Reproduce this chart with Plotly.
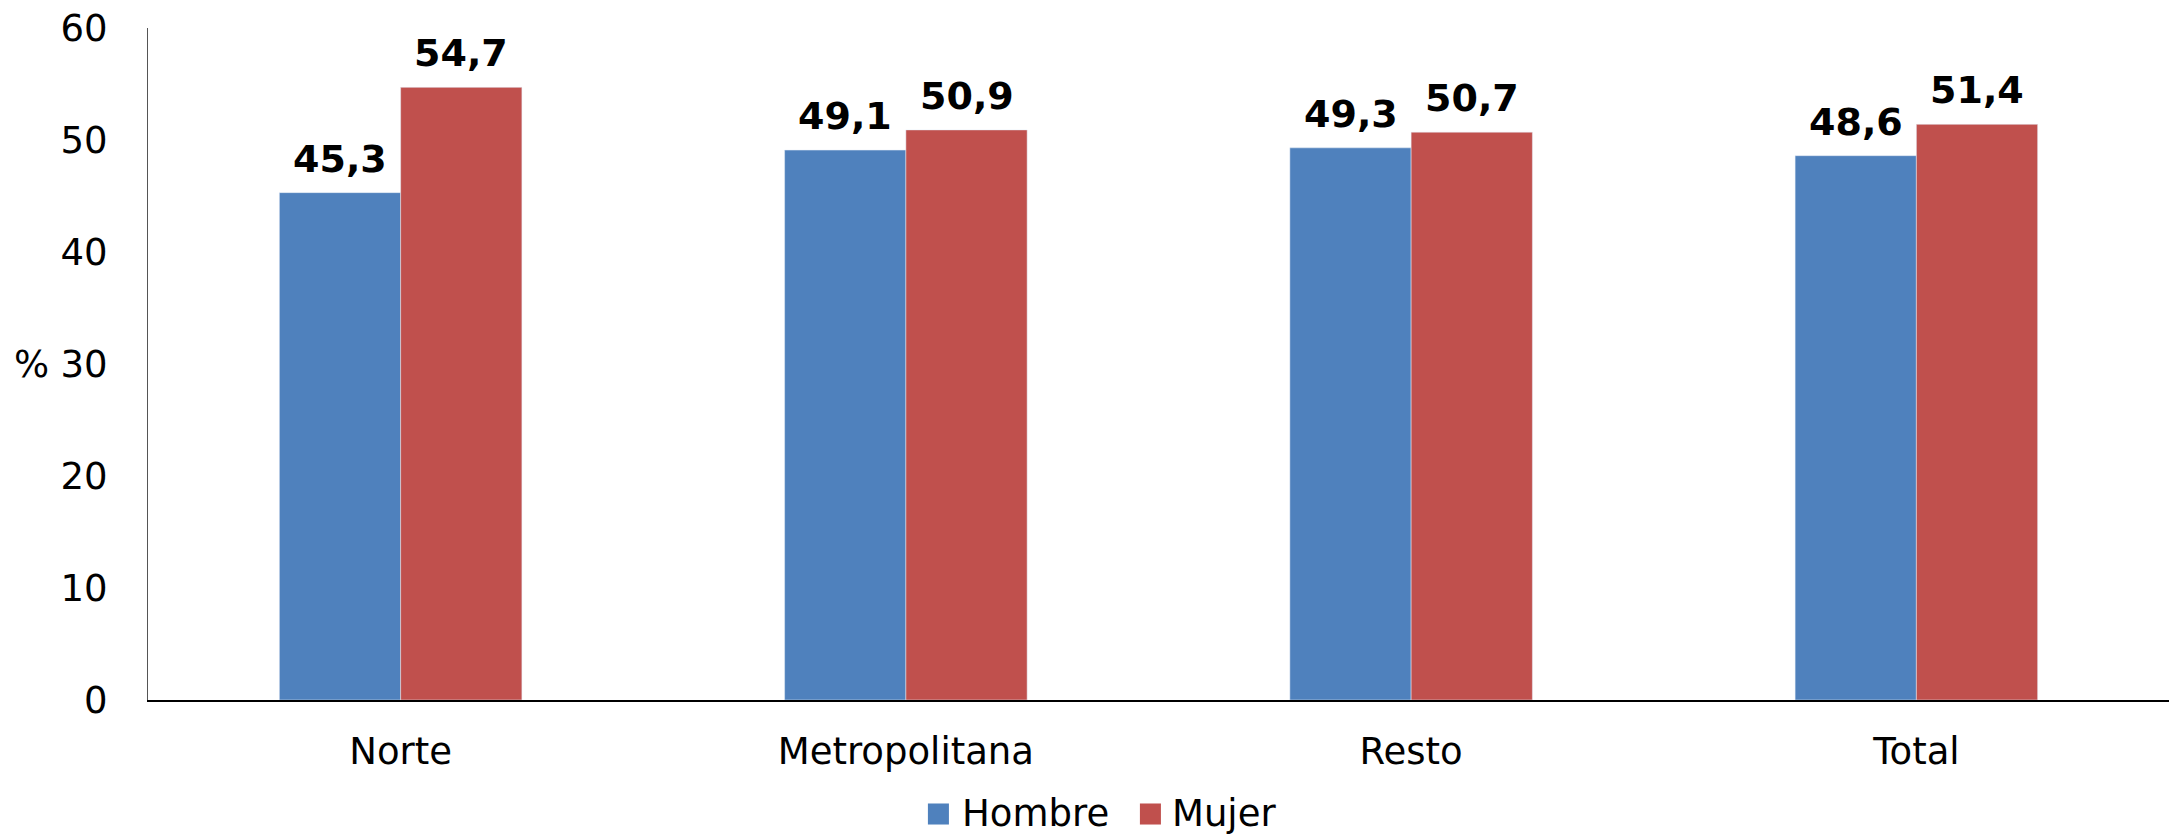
import plotly.graph_objects as go

# Datos
regiones = ["Norte", "Metropolitana", "Resto", "Total"]
hombre = [45.3, 49.1, 49.3, 48.6]
mujer = [54.7, 50.9, 50.7, 51.4]
series = [("Hombre", hombre, "#4F81BD"), ("Mujer", mujer, "#C0504D")]

fuente = "DejaVu Sans, Verdana, sans-serif"
ancho_barra = 0.24  # fraccion de la categoria


def etiqueta(v):
    return f"{v:.1f}".replace(".", ",")


fig = go.Figure()
for nombre, valores, color in series:
    fig.add_trace(go.Bar(x=regiones, y=valores, name=nombre,
                         marker_color=color, showlegend=False))

# Etiquetas de valor sobre cada barra
ancho_cat = 2021 / len(regiones)
anotaciones = []
for i, (nombre, valores, color) in enumerate(series):
    desplaz = (i - 0.5) * ancho_barra * ancho_cat
    for reg, v in zip(regiones, valores):
        anotaciones.append(dict(
            x=reg, y=v, text=etiqueta(v), showarrow=False,
            xanchor="center", yanchor="bottom", xshift=desplaz, yshift=10,
            font=dict(size=38, color="black", family=fuente, weight="bold")
        ))

# Titulo del eje y
anotaciones.append(dict(
    text="%", xref="paper", yref="y", x=-0.0575, y=30,
    showarrow=False, font=dict(size=37), xanchor="center"
))

# Leyenda dibujada a mano (cuadrados de 21 px)
formas = []
leyenda_x = [0.3859, 0.4908]
texto_x = [0.4018, 0.5055]
for (nombre, valores, color), lx, tx in zip(series, leyenda_x, texto_x):
    formas.append(dict(type="rect", xref="paper", yref="paper",
                       x0=lx, x1=lx + 0.0104, y0=-0.1853, y1=-0.154,
                       fillcolor=color, line_width=0))
    anotaciones.append(dict(
        text=nombre, xref="paper", yref="paper", x=tx, y=-0.1696,
        xanchor="left", yanchor="middle", showarrow=False,
        font=dict(size=37)
    ))

fig.update_layout(
    width=2169, height=837,
    margin=dict(l=148, r=0, t=28, b=137, autoexpand=False),
    plot_bgcolor="white", paper_bgcolor="white",
    barmode="group", bargap=0.52, bargroupgap=0,
    showlegend=False,
    font=dict(family=fuente, size=37, color="black"),
    xaxis=dict(
        showline=True, linecolor="black", linewidth=2,
        showgrid=False, ticks="", ticklabelstandoff=18,
        tickfont=dict(size=37), automargin=False
    ),
    yaxis=dict(
        range=[0, 60], dtick=10, showline=True, linecolor="#555555",
        linewidth=1, showgrid=False, zeroline=False, ticks="",
        ticklabelstandoff=32, tickfont=dict(size=37), automargin=False
    ),
    annotations=anotaciones,
    shapes=formas
)

# quitar el margen por defecto del body para que la figura ocupe la ventana
fig.write_html("out.html", config={"displayModeBar": False},
               post_script="document.body.style.margin='0';")
